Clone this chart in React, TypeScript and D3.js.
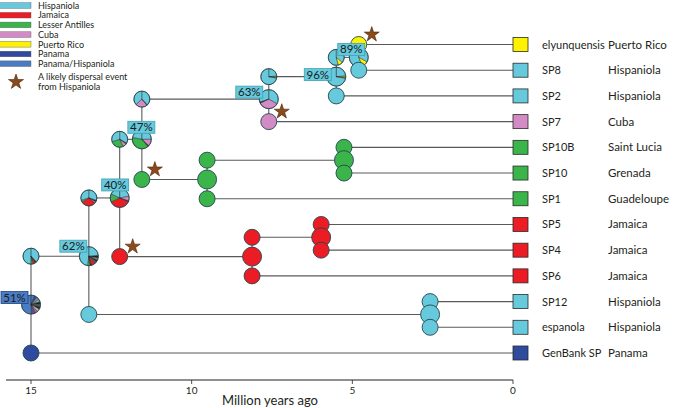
import React from "react";
import * as d3 from "d3";

const W = 675;
const H = 408;

// ---------- data ----------
const tipNames = ["elyunquensis", "SP8", "SP2", "SP7", "SP10B", "SP10", "SP1", "SP5", "SP4", "SP6", "SP12", "espanola", "GenBank SP"];
const tipLocations = ["Puerto Rico", "Hispaniola", "Hispaniola", "Cuba", "Saint Lucia", "Grenada", "Guadeloupe", "Jamaica", "Jamaica", "Jamaica", "Hispaniola", "Hispaniola", "Panama"];
const tipStates = ["P", "H", "H", "C", "L", "L", "L", "J", "J", "J", "H", "H", "PA"];

const nodeIds = ["n89", "n96", "n63", "n10", "nG", "n47", "n54", "nR", "n40", "n12", "n62", "root"];
const nodeAges = [4.8, 5.5, 7.6, 5.26, 9.52, 11.55, 5.97, 8.12, 12.24, 2.58, 13.2, 15.0];
const nodeChildren = [
  ["elyunquensis", "SP8"], ["n89", "SP2"], ["n96", "SP7"], ["SP10B", "SP10"], ["n10", "SP1"],
  ["n63", "nG"], ["SP5", "SP4"], ["n54", "SP6"], ["n47", "nR"], ["SP12", "espanola"],
  ["n40", "n12"], ["n62", "GenBank SP"],
];
const nodeSupport = ["89%", "96%", "63%", "", "", "47%", "", "", "40%", "", "62%", "51%"];

// ancestral-area probabilities at nodes (clockwise from 12 o'clock)
const nodePies: Record<string, [string, number][]> = {
  root: [["PH", .06], ["PA", .05], ["G", .05], ["H", .04], ["K", .04], ["G2", .05], ["K", .04], ["LG", .05], ["G", .04], ["PU", .07], ["PH", .51]],
  n62: [["H", .24], ["K", .04], ["G", .04], ["K", .03], ["G2", .04], ["J", .07], ["K", .02], ["L", .04], ["H", .48]],
  n40: [["H", .22], ["C", .08], ["K", .02], ["J", .36], ["L", .14], ["H", .18]],
  n47: [["H", .25], ["C", .12], ["K", .02], ["L", .39], ["H", .22]],
  n63: [["H", .33], ["C", .35], ["K", .02], ["H", .30]],
  n96: [["H", .24], ["P", .02], ["L", .02], ["H", .72]],
  n89: [["H", .33], ["P", .11], ["H", .56]],
  nG: [["L", 1]], n10: [["L", 1]], nR: [["J", 1]], n54: [["J", 1]], n12: [["H", 1]],
};
// probabilities at the start of each branch (keyed by the child)
const branchPies: Record<string, [string, number][]> = {
  n62: [["H", .38], ["K", .03], ["J", .05], ["L", .04], ["H", .50]],
  n40: [["H", .30], ["K", .03], ["C", .03], ["J", .30], ["L", .04], ["H", .30]],
  n47: [["H", .33], ["K", .02], ["C", .08], ["L", .27], ["H", .30]],
  n63: [["H", .38], ["K", .01], ["C", .24], ["H", .37]],
  n96: [["H", .24], ["P", .02], ["L", .02], ["H", .72]],
  n89: [["H", .36], ["P", .10], ["H", .54]],
  nG: [["L", 1]], n10: [["L", 1]], nR: [["J", 1]], n54: [["J", 1]], n12: [["H", 1]],
};
const dispersalBranches = ["elyunquensis", "SP7", "nG", "nR"];

const legendLabels = ["Hispaniola", "Jamaica", "Lesser Antilles", "Cuba", "Puerto Rico", "Panama", "Panama/Hispaniola"];
const legendStates = ["H", "J", "L", "C", "P", "PA", "PH"];
const tickValues = [15, 10, 5, 0];

// ---------- styles ----------
const COLORS: Record<string, string> = {
  H: "#66c9dc", J: "#ec1c24", L: "#3bb54a", C: "#d28bc5", P: "#fff200", PA: "#2e4b9e", PH: "#4a7cc3",
  K: "#231f20", G: "#8c8c8c", G2: "#5a5a5a", LG: "#bdbdbd", PU: "#7a3e96",
};
const labelOffsets: Record<string, [number, number]> = {
  root: [-30, -13], n62: [-29, -16], n40: [-18, -19], n47: [-14, -18], n63: [-33, -13], n96: [-32, -8], n89: [-21, -14],
};
const FONT = "Lato, 'Open Sans', 'Liberation Sans', sans-serif";

const x = d3.scaleLinear().domain([15, 0]).range([31, 513]);
const yTip = d3.scaleLinear().domain([0, tipNames.length - 1]).range([44.5, 353]);

type NodeInfo = { id: string; x: number; y: number; kids: string[]; support: string; tip: boolean };

function buildLayout() {
  const info: Record<string, NodeInfo> = {};
  tipNames.forEach((n, i) => {
    info[n] = { id: n, x: x(0), y: yTip(i), kids: [], support: "", tip: true };
  });
  const getY = (id: string): number => {
    if (info[id]) return info[id].y;
    const k = nodeIds.indexOf(id);
    const ys = nodeChildren[k].map(getY);
    return d3.mean(ys) as number;
  };
  nodeIds.forEach((id, k) => {
    info[id] = { id, x: x(nodeAges[k]), y: getY(id), kids: nodeChildren[k], support: nodeSupport[k], tip: false };
  });
  return info;
}

const pieGen = d3.pie<[string, number]>().sort(null).value((d) => d[1]);

function Pie({ cx, cy, r, data }: { cx: number; cy: number; r: number; data: [string, number][] }) {
  const arc = d3.arc<d3.PieArcDatum<[string, number]>>().innerRadius(0).outerRadius(r);
  const arcs = pieGen(data);
  return (
    <g transform={`translate(${cx},${cy})`}>
      {arcs.map((a, i) => (
        <path key={i} d={arc(a) || ""} fill={COLORS[a.data[0]]} stroke="none" />
      ))}
      {arcs.length > 1 && arcs.map((a, i) => (
        <path key={"s" + i} d={arc(a) || ""} fill="none" stroke="#2a2a2a" strokeWidth={0.35} />
      ))}
      <circle r={r} fill="none" stroke="#24464f" strokeWidth={0.9} />
    </g>
  );
}

const starPath = d3.symbol().type(d3.symbolStar).size(70)() || "";

export default function App() {
  const info = buildLayout();
  const RN = 9.5;
  const RB = 8;

  const lines: JSX.Element[] = [];
  const pies: JSX.Element[] = [];
  const labels: JSX.Element[] = [];
  const stars: JSX.Element[] = [];

  nodeIds.forEach((id) => {
    const n = info[id];
    const [c1, c2] = n.kids.map((k) => info[k]);
    lines.push(<line key={"v" + id} x1={n.x} x2={n.x} y1={c1.y} y2={c2.y} stroke="#5a5a5a" strokeWidth={1.1} />);
    n.kids.forEach((k) => {
      const c = info[k];
      lines.push(<line key={"h" + k} x1={n.x} x2={c.x} y1={c.y} y2={c.y} stroke="#5a5a5a" strokeWidth={1.1} />);
    });
    const startPie = (k: string) => {
      const c = info[k];
      const data = branchPies[k] || [[tipStates[tipNames.indexOf(k)], 1]];
      return <Pie key={"b" + k} cx={n.x} cy={c.y} r={RB} data={data as [string, number][]} />;
    };
    pies.push(startPie(n.kids[0]));
    pies.push(<Pie key={"n" + id} cx={n.x} cy={n.y} r={RN} data={nodePies[id]} />);
    pies.push(startPie(n.kids[1]));

    if (n.support) {
      const [dx, dy] = labelOffsets[id];
      const isRoot = id === "root";
      labels.push(
        <g key={"l" + id} transform={`translate(${n.x + dx},${n.y + dy})`}>
          <rect width={27} height={12} fill={isRoot ? COLORS.PH : COLORS.H} stroke={isRoot ? "#23427e" : "#3f9fb3"} strokeWidth={0.8} />
          <text x={13.5} y={10} textAnchor="middle" fontSize={11.5} fontFamily={FONT} fill="#1a1a1a">{n.support}</text>
        </g>
      );
    }
    n.kids.forEach((k) => {
      if (dispersalBranches.includes(k)) {
        stars.push(
          <path key={"st" + k} d={starPath} transform={`translate(${n.x + 13},${info[k].y - 10})`} fill="#8a4a1c" stroke="#4a2208" strokeWidth={0.6} />
        );
      }
    });
  });

  return (
    <svg width={W} height={H} style={{ position: "absolute", left: 0, top: 0, background: "#fff" }} fontFamily={FONT}>
      {/* legend */}
      {legendLabels.map((l, i) => {
        const cy = 5.5 + i * 9.7;
        return (
          <g key={"lg" + i}>
            <rect x={-1} y={cy - 2.8} width={32} height={5.6} fill={COLORS[legendStates[i]]} stroke="#555" strokeWidth={0.4} />
            <text x={38} y={cy + 3.2} fontSize={9} fill="#231f20">{l}</text>
          </g>
        );
      })}
      <path d={starPath} transform="translate(16,82)" fill="#8a4a1c" stroke="#4a2208" strokeWidth={0.6} />
      <text x={38} y={80} fontSize={9} fill="#231f20">A likely dispersal event</text>
      <text x={38} y={90} fontSize={9} fill="#231f20">from Hispaniola</text>

      {lines}
      {pies}
      {labels}
      {stars}

      {/* tips */}
      {tipNames.map((t, i) => (
        <g key={"t" + t}>
          <rect x={513} y={yTip(i) - 7} width={15} height={14} fill={COLORS[tipStates[i]]} stroke="#2a2a2a" strokeWidth={0.8} />
          <text x={542} y={yTip(i) + 4} fontSize={11} fill="#231f20">{t}</text>
          <text x={608} y={yTip(i) + 4} fontSize={11.5} fill="#231f20">{tipLocations[i]}</text>
        </g>
      ))}

      {/* axis */}
      <line x1={6} x2={513} y1={380} y2={380} stroke="#231f20" strokeWidth={1} />
      {tickValues.map((v) => (
        <g key={"tk" + v}>
          <line x1={x(v)} x2={x(v)} y1={380} y2={384} stroke="#231f20" strokeWidth={0.8} />
          <text x={x(v)} y={394} textAnchor="middle" fontSize={10} fill="#231f20">{v}</text>
        </g>
      ))}
      <text x={270} y={405} textAnchor="middle" fontSize={13} fill="#231f20">Million years ago</text>
    </svg>
  );
}
